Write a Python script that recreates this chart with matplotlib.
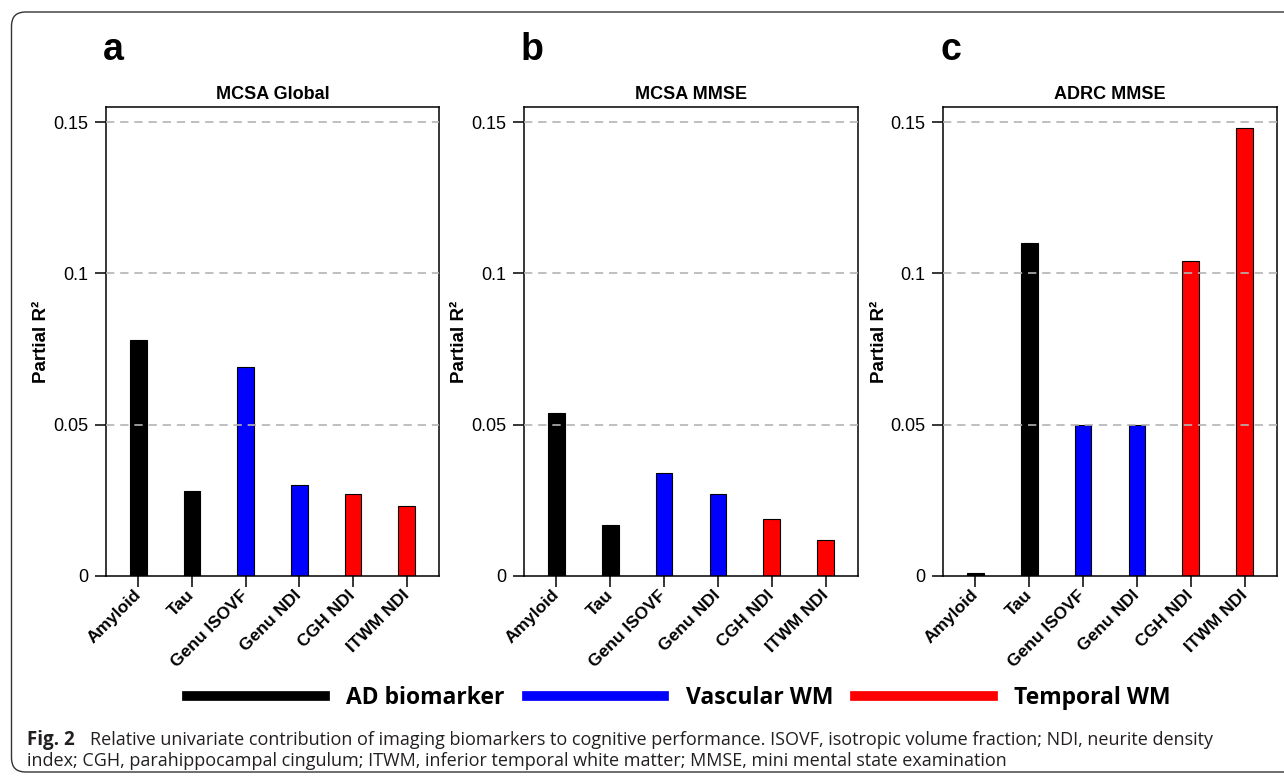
import matplotlib
matplotlib.use("Agg")
import matplotlib.pyplot as plt
from matplotlib.lines import Line2D
from matplotlib.patches import FancyBboxPatch

categories = ["Amyloid", "Tau", "Genu ISOVF", "Genu NDI", "CGH NDI", "ITWM NDI"]
groups = ["AD biomarker", "AD biomarker", "Vascular WM", "Vascular WM",
          "Temporal WM", "Temporal WM"]
group_names = ["AD biomarker", "Vascular WM", "Temporal WM"]
group_colors = ["black", "#0000ff", "#ff0000"]

panel_letters = ["a", "b", "c"]
panel_titles = ["MCSA Global", "MCSA MMSE", "ADRC MMSE"]
mcsa_global = [0.078, 0.028, 0.069, 0.030, 0.027, 0.023]
mcsa_mmse = [0.054, 0.017, 0.034, 0.027, 0.019, 0.012]
adrc_mmse = [0.001, 0.110, 0.050, 0.050, 0.104, 0.148]

yticks = [0, 0.05, 0.1, 0.15]
ytick_labels = ["0", "0.05", "0.1", "0.15"]

caption_bold = "Fig. 2"
caption_line1 = ("Relative univariate contribution of imaging biomarkers to cognitive "
                 "performance. ISOVF, isotropic volume fraction; NDI, neurite density")
caption_line2 = ("index; CGH, parahippocampal cingulum; ITWM, inferior temporal white "
                 "matter; MMSE, mini mental state examination")

plt.rcParams["font.family"] = ["Liberation Sans", "DejaVu Sans"]

W, H = 1284, 780
fig = plt.figure(figsize=(W / 100, H / 100), dpi=100)

# outer rounded frame (right side runs off the page like the original crop)
frame = FancyBboxPatch((11.5, H - 772), 1320, 760, boxstyle="round,pad=0,rounding_size=14",
                       transform=None, fill=False, edgecolor="#333333", linewidth=1.0)
fig.patches.append(frame)

color_of = dict(zip(group_names, group_colors))
bar_colors = [color_of[g] for g in groups]
panels = [mcsa_global, mcsa_mmse, adrc_mmse]
lefts = [106, 524, 943]
widths = [333, 334, 334]
top, bottom = 107, 576

for i, vals in enumerate(panels):
    ax = fig.add_axes([lefts[i] / W, 1 - bottom / H, widths[i] / W, (bottom - top) / H])
    x = list(range(len(categories)))
    ax.bar(x, vals, width=0.31, color=bar_colors, edgecolor="black", linewidth=0.8, zorder=2)
    for y in yticks[1:]:
        ax.axhline(y, color="#b4b4b4", linestyle=(0, (5, 3.5)), linewidth=1.2, zorder=3)
    ax.set_xlim(-0.6, 5.6)
    ax.set_ylim(0, 0.155)
    ax.set_yticks(yticks)
    ax.set_yticklabels(ytick_labels)
    ax.set_xticks(x)
    ax.set_xticklabels(categories, rotation=45, ha="right", va="center",
                       rotation_mode="anchor", fontweight="bold", fontsize=12.5)
    ax.tick_params(axis="y", length=8, width=1.1, labelsize=13, pad=5)
    ax.tick_params(axis="x", length=8, width=1.1, pad=4)
    for s in ax.spines.values():
        s.set_linewidth(1.1)
    ax.set_title(panel_titles[i], fontweight="bold", fontsize=13, pad=6)
    ax.text(-64 / widths[i], 0.5, "Partial R²", rotation=90, ha="center", va="center",
            fontweight="bold", fontsize=13.5, transform=ax.transAxes)
    fig.text((lefts[i] - 3) / W, 1 - 60 / H, panel_letters[i], fontsize=27,
             fontweight="bold", va="baseline")

handles = [Line2D([], [], color=c, linewidth=7) for c in group_colors]
fig.legend(handles, group_names, loc="center", bbox_to_anchor=(679 / W, 1 - 698 / H),
           ncol=3, frameon=False, handlelength=6.0, handletextpad=0.95, columnspacing=0.95,
           prop={"family": "Open Sans", "weight": "bold", "size": 16.5})

fig.text(27 / W, 1 - 740 / H, caption_bold, fontsize=13.5, fontweight="bold",
         family="Open Sans", va="center", color="#231f20")
fig.text(90 / W, 1 - 740 / H, caption_line1, fontsize=13, family="Open Sans",
         va="center", color="#231f20")
fig.text(27 / W, 1 - 761 / H, caption_line2, fontsize=13, family="Open Sans",
         va="center", color="#231f20")

fig.savefig("out.png", dpi=100)
